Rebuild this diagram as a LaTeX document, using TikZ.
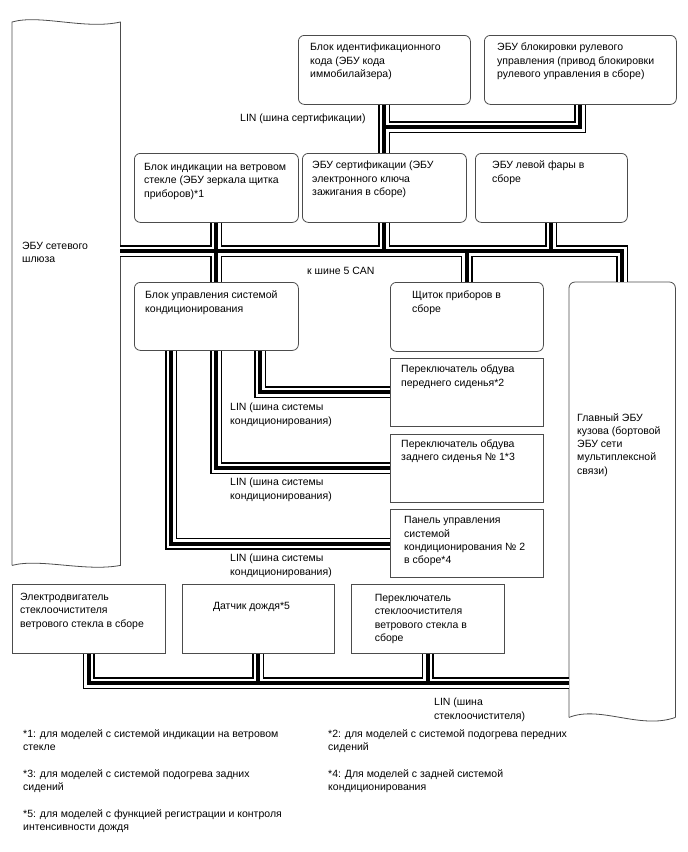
\documentclass[tikz,border=0pt]{standalone}
\usepackage{fontspec}
\setmainfont{Liberation Sans}
\usetikzlibrary{positioning}

\begin{document}
\begin{tikzpicture}[x=1pt, y=-1pt,
    RB/.style={rectangle, rounded corners=6pt, draw=black!70, line width=0.8pt,
      anchor=north west, inner sep=0pt},
    SB/.style={rectangle, draw=black!70, line width=0.8pt,
      anchor=north west, inner sep=0pt},
    GB/.style={rectangle, anchor=north west, inner sep=0pt},
    OL/.style={draw=black!70, line width=0.8pt},
    TX/.style={anchor=north west, inner sep=0pt, align=left,
      font=\fontsize{10.5}{13.3}\selectfont}
  ]
    \useasboundingbox (0,0) rectangle (688,852);

    %% Gateway (left) and body ECU (right)
    \node[GB, minimum width=108pt, minimum height=543pt] (gw) at (12,22) {};
    \draw[OL] (gw.south west) -- (gw.north west)
      .. controls (40,14) and (85,30) .. (gw.north east) -- (gw.south east)
      .. controls (85,572) and (40,558) .. (gw.south west);
    \node[GB, minimum width=106pt, minimum height=435pt] (bcm) at (569,282) {};
    \draw[OL, rounded corners=6pt] (bcm.south west) -- (bcm.north west)
      -- (bcm.north east) -- (bcm.south east);
    \draw[OL] (bcm.south west) .. controls (600,705) and (640,730) .. (bcm.south east);

    %% Top row
    \node[RB, minimum width=172pt, minimum height=69pt] (idc) at (298,35) {};
    \node[RB, minimum width=192pt, minimum height=69pt] (slk) at (484,35) {};

    %% Middle row
    \node[RB, minimum width=164pt, minimum height=69pt] (hud) at (134,153) {};
    \node[RB, minimum width=164pt, minimum height=69pt] (cert) at (302,153) {};
    \node[RB, minimum width=152pt, minimum height=69pt] (hl) at (475,153) {};

    %% AC unit, meter and switches
    \node[RB, minimum width=164pt, minimum height=68pt] (ac) at (134,282) {};
    \node[RB, minimum width=153pt, minimum height=69pt] (meter) at (390,282) {};
    \node[SB, minimum width=153pt, minimum height=68pt, below=6pt of meter] (fsw) {};
    \node[SB, minimum width=153pt, minimum height=68pt, below=7pt of fsw] (rsw) {};
    \node[SB, minimum width=153pt, minimum height=68pt, below=7pt of rsw] (acp) {};

    %% Wiper row
    \node[SB, minimum width=153pt, minimum height=69pt] (wm) at (12,584) {};
    \node[SB, minimum width=152pt, minimum height=69pt, right=16pt of wm] (rs) {};
    \node[SB, minimum width=153pt, minimum height=69pt, right=16pt of rs] (wsw) {};

    %% Box texts
    \node[TX] (gwT) at ([shift={(10,220)}]gw.north west) {ЭБУ сетевого\\шлюза};
    \node[TX] (bcmT) at ([shift={(8,131)}]bcm.north west)
      {Главный ЭБУ\\кузова (бортовой\\ЭБУ сети\\мультиплексной\\связи)};
    \node[TX] (idcT) at ([shift={(12,8)}]idc.north west)
      {Блок идентификационного\\кода (ЭБУ кода\\иммобилайзера)};
    \node[TX] (slkT) at ([shift={(13,8)}]slk.north west)
      {ЭБУ блокировки рулевого\\управления (привод блокировки\\рулевого управления в сборе)};
    \node[TX] (hudT) at ([shift={(10,10)}]hud.north west)
      {Блок индикации на ветровом\\стекле (ЭБУ зеркала щитка\\приборов)*1};
    \node[TX] (certT) at ([shift={(10,8)}]cert.north west)
      {ЭБУ сертификации (ЭБУ\\электронного ключа\\зажигания в сборе)};
    \node[TX] (hlT) at ([shift={(17,8)}]hl.north west) {ЭБУ левой фары в\\сборе};
    \node[TX] (acT) at ([shift={(11,9)}]ac.north west)
      {Блок управления системой\\кондиционирования};
    \node[TX] (meterT) at ([shift={(22,9)}]meter.north west) {Щиток приборов в\\сборе};
    \node[TX] (fswT) at ([shift={(11,7)}]fsw.north west)
      {Переключатель обдува\\переднего сиденья*2};
    \node[TX] (rswT) at ([shift={(11,6)}]rsw.north west)
      {Переключатель обдува\\заднего сиденья № 1*3};
    \node[TX] (acpT) at ([shift={(14,7)}]acp.north west)
      {Панель управления\\системой\\кондиционирования № 2\\в сборе*4};
    \node[TX] (wmT) at ([shift={(8,9)}]wm.north west)
      {Электродвигатель\\стеклоочистителя\\ветрового стекла в сборе};
    \node[TX] (rsT) at ([shift={(31,18)}]rs.north west) {Датчик дождя*5};
    \node[TX] (wswT) at ([shift={(24,10)}]wsw.north west)
      {Переключатель\\стеклоочистителя\\ветрового стекла в\\сборе};

    %% Bus labels
    \node[TX] (certL) at (240,114) {LIN (шина сертификации)};
    \node[TX] (canL) at (307,267) {к шине 5 CAN};
    \node[TX] (linA) at (230,403) {LIN (шина системы\\кондиционирования)};
    \node[TX] (linB) at (230,478) {LIN (шина системы\\кондиционирования)};
    \node[TX] (linC) at (230,554) {LIN (шина системы\\кондиционирования)};
    \node[TX] (linW) at (434,698) {LIN (шина\\стеклоочистителя)};

    %% Footnotes
    \node[TX] (n1) at (23,729) {*1: для моделей с системой индикации на ветровом\\стекле};
    \node[TX] (n2) at (328,729) {*2: для моделей с системой подогрева передних\\сидений};
    \node[TX] (n3) at (23,769) {*3: для моделей с системой подогрева задних\\сидений};
    \node[TX] (n4) at (328,769) {*4: Для моделей с задней системой\\кондиционирования};
    \node[TX] (n5) at (23,809) {*5: для моделей с функцией регистрации и контроля\\интенсивности дождя};

    %% Bus levels
    \coordinate (canY) at (0,251);
    \coordinate (certY) at (0,127);
    \coordinate (wipY) at (0,683);

    %% Cables: outer, gap, core
    \foreach \lw/\lc in {12/black, 9/white, 4/black}{
      \begin{scope}[line width=\lw pt, draw=\lc]
        % CAN
        \draw (gw.east |- canY) -| (bcm.north);
        \draw (hud.south) -- (ac.north);
        \draw (cert.south) -- (cert.south |- canY);
        \draw (hl.south) -- (hl.south |- canY);
        \draw (meter.north) -- (meter.north |- canY);
        % LIN certification
        \draw (idc.south) -- (cert.north);
        \draw (slk.south) |- (idc.south |- certY);
        % LIN air conditioning
        \draw ([xshift=44pt]ac.south) |- (fsw.west);
        \draw (ac.south) |- (rsw.west);
        \draw ([xshift=-45pt]ac.south) |- (acp.west);
        % LIN wiper
        \draw (wm.south) |- (bcm.west |- wipY);
        \draw (rs.south) -- (rs.south |- wipY);
        \draw (wsw.south) -- (wsw.south |- wipY);
      \end{scope}
    }
\end{tikzpicture}
\end{document}
